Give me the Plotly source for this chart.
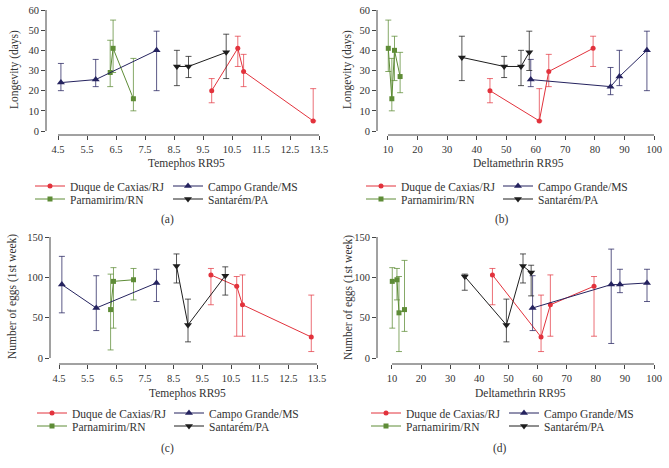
import plotly.graph_objects as go

W, H = 669, 468

# ---------------- data ----------------
SERIES = ["Duque de Caxias/RJ", "Parnamirim/RN", "Campo Grande/MS", "Santarém/PA"]

# Panel (a): Temephos RR95 vs longevity (days)
a_duque_x = [9.8, 10.7, 10.9, 13.3]
a_duque_y = [20, 41, 29.5, 5]
a_duque_hi = [26, 47, 38, 21]
a_duque_lo = [14, 32, 22, 5]
a_parn_x = [6.3, 6.4, 7.1]
a_parn_y = [29, 41, 16]
a_parn_hi = [45, 55, 36]
a_parn_lo = [22, 29, 10]
a_camp_x = [4.6, 5.8, 7.9]
a_camp_y = [24, 25.5, 40]
a_camp_hi = [33.5, 35.5, 49.5]
a_camp_lo = [20, 22, 20]
a_sant_x = [8.6, 9.0, 10.3]
a_sant_y = [32, 32, 39]
a_sant_hi = [40, 37, 48]
a_sant_lo = [22.5, 26.5, 26]

# Panel (b): Deltamethrin RR95 vs longevity (days)
b_duque_x = [44.5, 61.2, 64.4, 79.4]
b_duque_y = [20, 5, 29.5, 41]
b_duque_hi = [26, 21, 38, 47]
b_duque_lo = [14, 5, 22, 32]
b_parn_x = [10.1, 11.3, 12.2, 14.1]
b_parn_y = [41, 16, 40, 27]
b_parn_hi = [55, 36, 47, 39]
b_parn_lo = [29.5, 10, 25, 19]
b_camp_x = [58.3, 85.3, 88.3, 97.6]
b_camp_y = [25.5, 22, 27, 40]
b_camp_hi = [35.5, 31.5, 40, 49.5]
b_camp_lo = [22, 18, 22.5, 20]
b_sant_x = [35, 49.3, 55, 57.8]
b_sant_y = [36.5, 32, 32, 39]
b_sant_hi = [47, 37, 40, 49.5]
b_sant_lo = [25, 26.5, 22.5, 30]

# Panel (c): Temephos RR95 vs number of eggs (1st week)
c_duque_x = [9.8, 10.7, 10.9, 13.3]
c_duque_y = [103, 89, 66, 26]
c_duque_hi = [111, 101, 103, 78]
c_duque_lo = [66, 27, 27, 8]
c_parn_x = [6.3, 6.4, 7.1]
c_parn_y = [60, 95, 97]
c_parn_hi = [104, 112, 111]
c_parn_lo = [10, 37, 72]
c_camp_x = [4.6, 5.8, 7.9]
c_camp_y = [91, 62, 93]
c_camp_hi = [126, 102, 110]
c_camp_lo = [56, 34, 70]
c_sant_x = [8.6, 9.0, 10.3]
c_sant_y = [114, 41, 102]
c_sant_hi = [129, 73, 113]
c_sant_lo = [93, 20, 78]

# Panel (d): Deltamethrin RR95 vs number of eggs (1st week)
d_duque_x = [44.5, 61.2, 64.4, 79.4]
d_duque_y = [103, 26, 66, 89]
d_duque_hi = [111, 78, 103, 101]
d_duque_lo = [66, 8, 27, 27]
d_parn_x = [10.1, 11.7, 12.4, 14.3]
d_parn_y = [95, 97, 56, 60]
d_parn_hi = [112, 111, 101, 121]
d_parn_lo = [37, 72, 8, 33]
d_camp_x = [58.3, 85.3, 88.3, 97.6]
d_camp_y = [62, 91, 91, 93]
d_camp_hi = [102, 135, 110, 110]
d_camp_lo = [34, 18, 81, 70]
d_sant_x = [35, 49.3, 55, 57.8]
d_sant_y = [101, 41, 114, 106]
d_sant_hi = [104, 73, 129, 115]
d_sant_lo = [84, 20, 93, 77]

TEM_TICKS = [4.5, 5.5, 6.5, 7.5, 8.5, 9.5, 10.5, 11.5, 12.5, 13.5]
DEL_TICKS = [10, 20, 30, 40, 50, 60, 70, 80, 90, 100]
LONG_TICKS = [0, 10, 20, 30, 40, 50, 60]
EGG_TICKS = [0, 50, 100, 150]

X_TITLES = ["Temephos RR95", "Deltamethrin RR95", "Temephos RR95", "Deltamethrin RR95"]
Y_TITLES = ["Longevity (days)", "Longevity (days)", "Number of eggs (1st week)", "Number of eggs (1st week)"]
CAPTIONS = ["(a)", "(b)", "(c)", "(d)"]

# ---------------- styling ----------------
FONT = "Liberation Serif, Times New Roman, serif"
TXT = "#333333"
AX = "#444444"
COLORS = ["#e2323c", "#5e8c36", "#25235f", "#1e1e1e"]
ERR_COLORS = ["rgba(226,50,60,0.7)", "rgba(94,140,54,0.75)", "rgba(37,35,95,0.75)", "rgba(30,30,30,0.75)"]
SYMBOLS = ["circle", "square", "triangle-up", "triangle-down"]
SIZES = [5, 5, 7, 7]

def px_x(p):
    return p / W

def px_y(p):
    return 1 - p / H

PANELS = [
    dict(xd=(46, 319), yd=(10, 135), xr=[4.086, 13.5], yr=[-1.98, 60], xt=TEM_TICKS, yt=LONG_TICKS,
         xline=(4.5, 13.5), yline=(0, 60),
         xtitle=(186, 163), ytitle=(14, 70), cap=(167, 219),
         leg=[(30, 186), (30, 199), (168, 186), (168, 199)]),
    dict(xd=(377, 654), yd=(10, 135), xr=[6.28, 100], yr=[-1.98, 60], xt=DEL_TICKS, yt=LONG_TICKS,
         xline=(10, 100), yline=(0, 60),
         xtitle=(518, 163), ytitle=(347, 70), cap=(502, 219),
         leg=[(361, 186), (361, 199), (498, 186), (498, 199)]),
    dict(xd=(50, 317), yd=(237, 364), xr=[4.186, 13.5], yr=[-7.44, 150], xt=TEM_TICKS, yt=EGG_TICKS,
         xline=(4.5, 13.5), yline=(0, 150),
         xtitle=(187, 393), ytitle=(12, 297), cap=(167, 448),
         leg=[(32, 413), (32, 426), (169, 413), (169, 426)]),
    dict(xd=(377, 654), yd=(237, 364), xr=[4.85, 100], yr=[-7.44, 150], xt=DEL_TICKS, yt=EGG_TICKS,
         xline=(10, 100), yline=(0, 150),
         xtitle=(520, 393), ytitle=(348, 297), cap=(500, 448),
         leg=[(366, 413), (366, 426), (504, 413), (504, 426)]),
]

DATA = [
    [(a_duque_x, a_duque_y, a_duque_hi, a_duque_lo), (a_parn_x, a_parn_y, a_parn_hi, a_parn_lo),
     (a_camp_x, a_camp_y, a_camp_hi, a_camp_lo), (a_sant_x, a_sant_y, a_sant_hi, a_sant_lo)],
    [(b_duque_x, b_duque_y, b_duque_hi, b_duque_lo), (b_parn_x, b_parn_y, b_parn_hi, b_parn_lo),
     (b_camp_x, b_camp_y, b_camp_hi, b_camp_lo), (b_sant_x, b_sant_y, b_sant_hi, b_sant_lo)],
    [(c_duque_x, c_duque_y, c_duque_hi, c_duque_lo), (c_parn_x, c_parn_y, c_parn_hi, c_parn_lo),
     (c_camp_x, c_camp_y, c_camp_hi, c_camp_lo), (c_sant_x, c_sant_y, c_sant_hi, c_sant_lo)],
    [(d_duque_x, d_duque_y, d_duque_hi, d_duque_lo), (d_parn_x, d_parn_y, d_parn_hi, d_parn_lo),
     (d_camp_x, d_camp_y, d_camp_hi, d_camp_lo), (d_sant_x, d_sant_y, d_sant_hi, d_sant_lo)],
]

fig = go.Figure()
layout = dict(
    template="none",
    width=W, height=H, margin=dict(l=0, r=0, t=0, b=0, pad=0, autoexpand=False),
    paper_bgcolor="white", plot_bgcolor="white", showlegend=True,
    font=dict(family=FONT, color=TXT, size=11),
)
shapes, annotations = [], []
legend_idx = 0

for p, (geo, series) in enumerate(zip(PANELS, DATA)):
    n = p + 1
    xa = "xaxis" if n == 1 else f"xaxis{n}"
    ya = "yaxis" if n == 1 else f"yaxis{n}"
    xref = "x" if n == 1 else f"x{n}"
    yref = "y" if n == 1 else f"y{n}"
    layout[xa] = dict(
        domain=[px_x(geo["xd"][0]), px_x(geo["xd"][1])], anchor=yref, range=geo["xr"],
        tickvals=geo["xt"], ticktext=[f"{v:g}" if isinstance(v, int) else f"{v:.1f}" for v in geo["xt"]],
        ticks="outside", ticklen=4, tickwidth=1, tickcolor=AX, showline=False, automargin=False,
        showgrid=False, zeroline=False, tickfont=dict(family=FONT, size=10.5, color=TXT),
    )
    layout[ya] = dict(
        domain=[px_y(geo["yd"][1]), px_y(geo["yd"][0])], anchor=xref, range=geo["yr"],
        tickvals=geo["yt"], ticks="outside", ticklen=4, tickwidth=1, tickcolor=AX, showline=False,
        automargin=False,
        showgrid=False, zeroline=False, tickfont=dict(family=FONT, size=10.5, color=TXT),
    )
    shapes.append(dict(type="line", xref=xref, yref=f"{yref} domain", x0=geo["xline"][0], x1=geo["xline"][1],
                       y0=0, y1=0, line=dict(color=AX, width=1)))
    shapes.append(dict(type="line", xref=f"{xref} domain", yref=yref, x0=0, x1=0,
                       y0=geo["yline"][0], y1=geo["yline"][1], line=dict(color=AX, width=1)))
    annotations.append(dict(text=X_TITLES[p], xref="paper", yref="paper", x=px_x(geo["xtitle"][0]),
                            y=px_y(geo["xtitle"][1]), xanchor="center", yanchor="middle", showarrow=False,
                            font=dict(family=FONT, size=11.5, color=TXT)))
    annotations.append(dict(text=Y_TITLES[p], xref="paper", yref="paper", x=px_x(geo["ytitle"][0]),
                            y=px_y(geo["ytitle"][1]), xanchor="center", yanchor="middle", showarrow=False,
                            textangle=-90, font=dict(family=FONT, size=11.5, color=TXT)))
    annotations.append(dict(text=CAPTIONS[p], xref="paper", yref="paper", x=px_x(geo["cap"][0]),
                            y=px_y(geo["cap"][1]), xanchor="center", yanchor="middle", showarrow=False,
                            font=dict(family=FONT, size=11.5, color=TXT)))

    for s, (xs, ys, his, los) in enumerate(series):
        legend_idx += 1
        lname = "legend" if legend_idx == 1 else f"legend{legend_idx}"
        fig.add_trace(go.Scatter(
            x=xs, y=ys, mode="lines+markers", name=SERIES[s], xaxis=xref, yaxis=yref,
            legend=lname, cliponaxis=False, showlegend=True,
            line=dict(color=COLORS[s], width=1),
            marker=dict(symbol=SYMBOLS[s], size=SIZES[s], color=COLORS[s]),
            error_y=dict(type="data", symmetric=False,
                         array=[h - y for h, y in zip(his, ys)],
                         arrayminus=[y - l for l, y in zip(los, ys)],
                         color=ERR_COLORS[s], thickness=1, width=3),
        ))
        lx, ly = geo["leg"][s]
        layout[lname] = dict(x=px_x(lx), y=px_y(ly), xanchor="left", yanchor="middle",
                             bgcolor="rgba(0,0,0,0)", borderwidth=0, visible=True,
                             font=dict(family=FONT, size=11.5, color=TXT))

layout["shapes"] = shapes
layout["annotations"] = annotations
fig.update_layout(**layout)
fig.write_html("out.html", config={"displayModeBar": False},
               post_script="document.body.style.margin='0';document.body.style.padding='0';")
